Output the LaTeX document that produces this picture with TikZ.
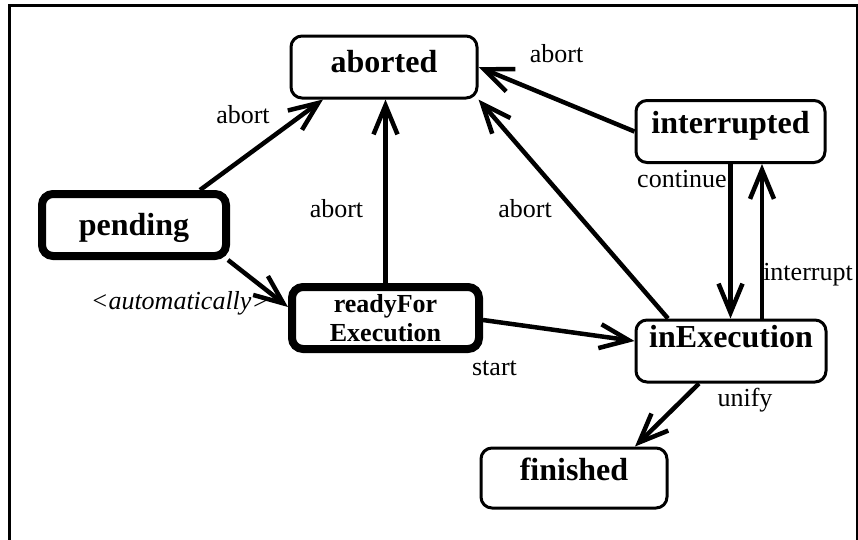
\documentclass[tikz,border=0pt]{standalone}
\usepackage{fontspec}
\setmainfont{Liberation Serif}
\usetikzlibrary{arrows.meta}

\tikzset{
  state/.style={draw, rounded corners=11pt, line width=3pt, inner sep=0pt,
    minimum height=62pt, font=\fontsize{32}{38}\selectfont\bfseries},
  oneline/.style={text height=20pt, text depth=#1},
  heavy/.style={line width=8pt},
  trans/.style={line width=4.5pt,
    -{Straight Barb[length=29pt,width=24pt,line width=4.5pt]}},
  lbl/.style={font=\fontsize{26}{30}\selectfont, anchor=base, inner sep=0pt},
}

\begin{document}
\begin{tikzpicture}[x=1pt, y=-1pt]
  \useasboundingbox (0,0) rectangle (858,539);
  % outer frame (open at the bottom)
  \draw[line width=2.5pt] (9.5,545) -- (9.5,5.5) -- (857,5.5) -- (857,545);

  % states
  \node[state, oneline=10pt, minimum width=186pt] (aborted) at (384,67) {aborted};
  \node[state, oneline=17pt, minimum width=189pt] (interrupted) at (730.5,131.5) {interrupted};
  \node[state, heavy, oneline=0pt, minimum width=184pt] (pending) at (134,225) {pending};
  \node[state, heavy, minimum width=187pt, align=center,
        font=\fontsize{26}{29}\selectfont\bfseries] (ready) at (385.5,318) {readyFor\\Execution};
  \node[state, oneline=28pt, minimum width=190pt] (exec) at (731,351) {inExecution};
  \node[state, oneline=16pt, minimum width=186pt, minimum height=60pt] (finished) at (574,478) {finished};

  % transitions
  \draw[trans] ([xshift=66pt]pending.north) -- ([xshift=-61pt]aborted.south);
  \draw[trans] (ready.north) -- (ready.north |- aborted.south);
  \draw[trans] ([xshift=-63pt]exec.north) -- (aborted.south east);
  \draw[trans] (interrupted.west) -- (aborted.east);
  \draw[trans] ([xshift=-2pt]pending.south east) -- ([yshift=11pt]ready.west);
  \draw[trans] ([yshift=-2pt]ready.east) -- ([yshift=10pt]exec.west);
  \draw[trans] (interrupted.south) -- (interrupted.south |- exec.north);
  \draw[trans] ([xshift=31pt]exec.north) -- ([xshift=31pt]exec.north |- interrupted.south);
  \draw[trans] ([xshift=-32pt]exec.south) -- ([xshift=61pt]finished.north);

  % transition labels
  \node[lbl] (l1) at (243,123) {abort};
  \node[lbl] (l2) at (336.5,217) {abort};
  \node[lbl] (l3) at (525,217) {abort};
  \node[lbl] (l4) at (556.5,62) {abort};
  \node[lbl] (lauto) at (180,309) {\itshape <automatically>};
  \node[lbl] (lstart) at (494.5,375) {start};
  \node[lbl] (lcont) at (682,187) {continue};
  \node[lbl] (lint) at (808,280) {interrupt};
  \node[lbl] (lunify) at (745,406) {unify};
\end{tikzpicture}
\end{document}
